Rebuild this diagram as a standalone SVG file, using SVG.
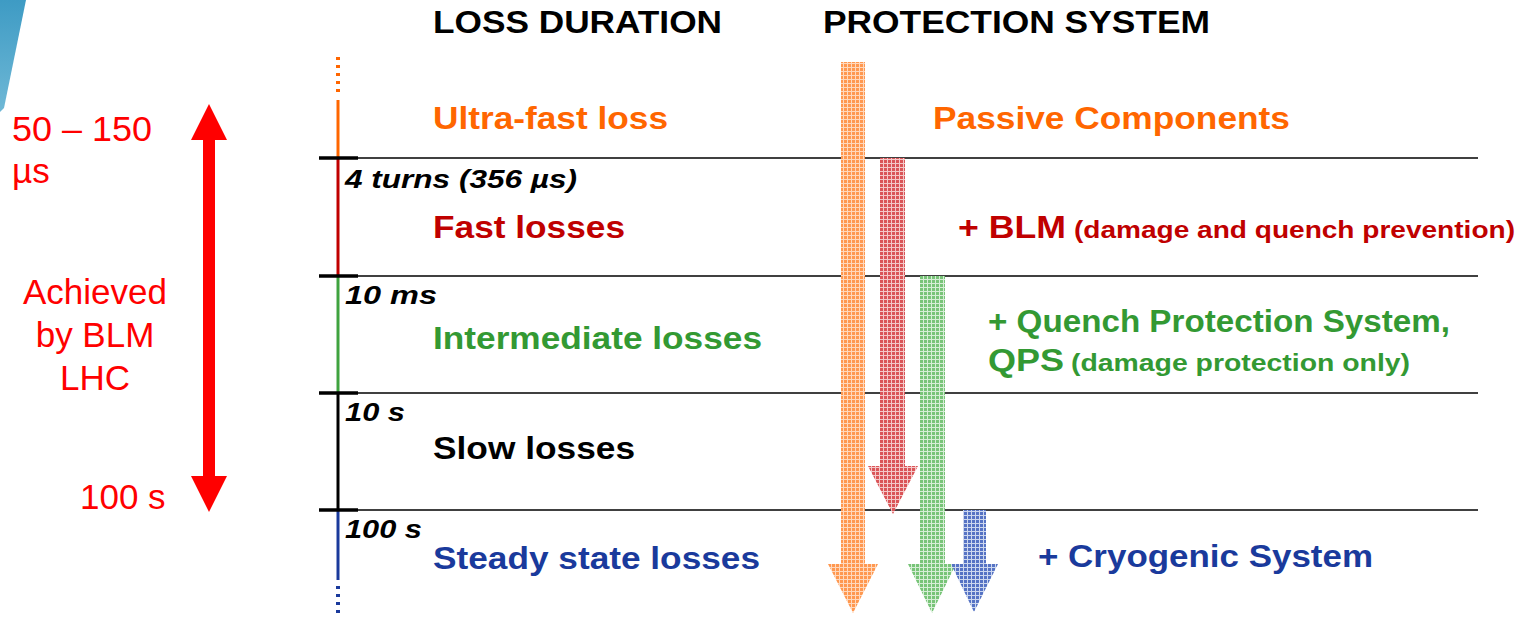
<svg xmlns="http://www.w3.org/2000/svg" width="1520" height="617" viewBox="0 0 1520 617">
  <defs>
    <linearGradient id="wedge" x1="0" y1="0" x2="0" y2="1">
      <stop offset="0" stop-color="#3E9BC4"/>
      <stop offset="1" stop-color="#6FB8D6"/>
    </linearGradient>
    <pattern id="dotOrange" width="4" height="4" patternUnits="userSpaceOnUse">
      <rect width="4" height="4" fill="#FFD8BC"/>
      <rect x="0" y="0" width="3" height="3" fill="#FF9850"/>
    </pattern>
    <pattern id="dotRed" width="4" height="4" patternUnits="userSpaceOnUse">
      <rect width="4" height="4" fill="#F4C8C8"/>
      <rect x="0" y="0" width="3" height="3" fill="#DA5558"/>
    </pattern>
    <pattern id="dotGreen" width="4" height="4" patternUnits="userSpaceOnUse">
      <rect width="4" height="4" fill="#D6EED6"/>
      <rect x="0" y="0" width="3" height="3" fill="#78C478"/>
    </pattern>
    <pattern id="dotBlue" width="4" height="4" patternUnits="userSpaceOnUse">
      <rect width="4" height="4" fill="#CCD7EF"/>
      <rect x="0" y="0" width="3" height="3" fill="#5673C4"/>
    </pattern>
  </defs>
  <style>
    .h { font-family: "Liberation Sans", Arial, sans-serif; font-weight: bold; font-size: 31px; fill: #000; }
    .lbl { font-family: "Liberation Sans", Arial, sans-serif; font-weight: bold; font-size: 32px; }
    .sub { font-family: "Liberation Sans", Arial, sans-serif; font-weight: bold; font-size: 24px; }
    .t { font-family: "Liberation Sans", Arial, sans-serif; font-weight: bold; font-style: italic; font-size: 26px; fill: #000; }
    .side { font-family: "Liberation Sans", Arial, sans-serif; font-size: 35px; fill: #FF0000; }
    .or { fill: #FF6600; }
    .rd { fill: #C00000; }
    .gr { fill: #339933; }
    .bl { fill: #1A3A9C; }
    .bk { fill: #000; }
    .rule { stroke: #000; stroke-width: 1.5; }
    .tick { stroke: #000; stroke-width: 3.5; }
  </style>

  <rect width="1520" height="617" fill="#FFFFFF"/>

  <!-- corner decoration -->
  <polygon points="0,0 26,0 4,108 0,112" fill="url(#wedge)"/>

  <!-- column headings -->
  <g id="headings">
    <text class="h" x="433" y="33" textLength="289" lengthAdjust="spacingAndGlyphs">LOSS DURATION</text>
    <text class="h" x="823" y="33" textLength="387" lengthAdjust="spacingAndGlyphs">PROTECTION SYSTEM</text>
  </g>

  <!-- time axis -->
  <g id="axis">
    <line x1="338" y1="57" x2="338" y2="96" stroke="#FF6600" stroke-width="4" stroke-dasharray="3,5"/>
    <line x1="338" y1="100" x2="338" y2="158" stroke="#FF6600" stroke-width="3"/>
    <line x1="338" y1="158" x2="338" y2="276" stroke="#C00000" stroke-width="3"/>
    <line x1="338" y1="276" x2="338" y2="393" stroke="#3FA33F" stroke-width="3"/>
    <line x1="338" y1="393" x2="338" y2="510" stroke="#000" stroke-width="3"/>
    <line x1="338" y1="510" x2="338" y2="580" stroke="#1A3A9C" stroke-width="3"/>
    <line x1="338" y1="586" x2="338" y2="613" stroke="#1A3A9C" stroke-width="4" stroke-dasharray="3,5"/>

    <line class="rule" x1="356" y1="158" x2="1478" y2="158"/>
    <line class="rule" x1="356" y1="276" x2="1478" y2="276"/>
    <line class="rule" x1="356" y1="393" x2="1478" y2="393"/>
    <line class="rule" x1="356" y1="510" x2="1478" y2="510"/>

    <line class="tick" x1="319" y1="158" x2="358" y2="158"/>
    <line class="tick" x1="319" y1="276" x2="358" y2="276"/>
    <line class="tick" x1="319" y1="393" x2="358" y2="393"/>
    <line class="tick" x1="319" y1="510" x2="358" y2="510"/>

    <text class="t" x="345" y="188" textLength="232" lengthAdjust="spacingAndGlyphs">4 turns (356 µs)</text>
    <text class="t" x="345" y="304" textLength="92" lengthAdjust="spacingAndGlyphs">10 ms</text>
    <text class="t" x="345" y="421" textLength="60" lengthAdjust="spacingAndGlyphs">10 s</text>
    <text class="t" x="345" y="538" textLength="77" lengthAdjust="spacingAndGlyphs">100 s</text>
  </g>

  <!-- loss regimes -->
  <g id="loss-ultrafast"><text class="lbl or" x="433" y="129" textLength="235" lengthAdjust="spacingAndGlyphs">Ultra-fast loss</text></g>
  <g id="loss-fast"><text class="lbl rd" x="433" y="238" textLength="192" lengthAdjust="spacingAndGlyphs">Fast losses</text></g>
  <g id="loss-intermediate"><text class="lbl gr" x="433" y="349" textLength="329" lengthAdjust="spacingAndGlyphs">Intermediate losses</text></g>
  <g id="loss-slow"><text class="lbl bk" x="433" y="459" textLength="202" lengthAdjust="spacingAndGlyphs">Slow losses</text></g>
  <g id="loss-steady"><text class="lbl bl" x="433" y="569" textLength="327" lengthAdjust="spacingAndGlyphs">Steady state losses</text></g>

  <!-- protection systems -->
  <g id="prot-passive"><text class="lbl or" x="933" y="129" textLength="357" lengthAdjust="spacingAndGlyphs">Passive Components</text></g>
  <g id="prot-blm">
    <text class="lbl rd" x="958" y="238" textLength="108" lengthAdjust="spacingAndGlyphs">+ BLM</text>
    <text class="sub rd" x="1074" y="238" textLength="441" lengthAdjust="spacingAndGlyphs">(damage and quench prevention)</text>
  </g>
  <g id="prot-qps">
    <text class="lbl gr" x="988" y="332" textLength="462" lengthAdjust="spacingAndGlyphs">+ Quench Protection System,</text>
    <text class="lbl gr" x="988" y="371" textLength="76" lengthAdjust="spacingAndGlyphs">QPS</text>
    <text class="sub gr" x="1071" y="371" textLength="339" lengthAdjust="spacingAndGlyphs">(damage protection only)</text>
  </g>
  <g id="prot-cryo"><text class="lbl bl" x="1038" y="567" textLength="335" lengthAdjust="spacingAndGlyphs">+ Cryogenic System</text></g>

  <!-- coverage arrows -->
  <g id="connectors">
    <polygon points="841,62 865,62 865,564 878,564 853,613 828,564 841,564" fill="url(#dotOrange)"/>
    <polygon points="880,158 905,158 905,466 918,466 893,514 868,466 880,466" fill="url(#dotRed)"/>
    <polygon points="920,276 945,276 945,564 956,564 932,613 908,564 920,564" fill="url(#dotGreen)"/>
    <polygon points="963,510 986,510 986,564 998,564 974,612 951,564 963,564" fill="url(#dotBlue)"/>

    <!-- BLM range arrow -->
    <polygon points="209,104 227,140 215,140 215,476 227,476 209,512 191,476 203,476 203,140 191,140" fill="#FF0000"/>
  </g>

  <!-- BLM range annotation -->
  <g id="blm-range">
    <text class="side" x="12" y="141" textLength="140" lengthAdjust="spacingAndGlyphs">50 – 150</text>
    <text class="side" x="12" y="183">µs</text>
    <text class="side" x="95" y="304" text-anchor="middle">Achieved</text>
    <text class="side" x="95" y="347" text-anchor="middle">by BLM</text>
    <text class="side" x="95" y="390" text-anchor="middle">LHC</text>
    <text class="side" x="80" y="509">100 s</text>
  </g>
</svg>
